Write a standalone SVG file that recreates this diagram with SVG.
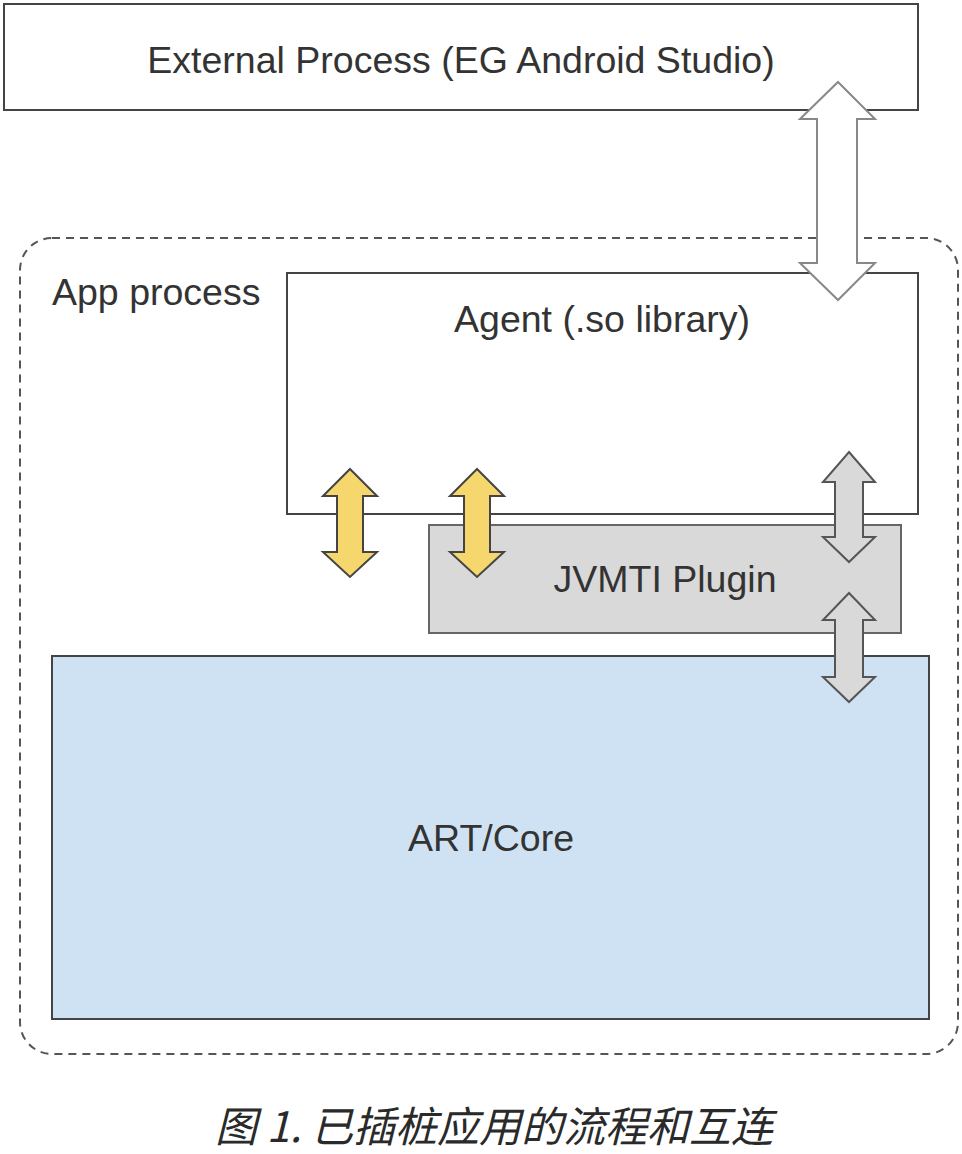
<svg xmlns="http://www.w3.org/2000/svg" width="962" height="1154" viewBox="0 0 962 1154">
<style>
.t{font-family:"Liberation Sans",Arial,sans-serif;font-size:37.5px;fill:#333;}
.box{stroke:#444;stroke-width:2;}
.arr{stroke-width:2;stroke-linejoin:miter;}
</style>
<rect width="962" height="1154" fill="#fff"/>
<g id="app-process">
<rect x="20" y="238" width="938" height="816" rx="32" fill="none" stroke="#555" stroke-width="2" stroke-dasharray="8,6"/>
<text class="t" x="52" y="305">App process</text>
</g>
<g id="external-process">
<rect class="box" x="4" y="4" width="914" height="106" fill="#fff"/>
<text class="t" x="461" y="73" text-anchor="middle">External Process (EG Android Studio)</text>
</g>
<g id="agent">
<rect class="box" x="287" y="273" width="631" height="241" fill="#fff"/>
<text class="t" x="602" y="332" text-anchor="middle">Agent (.so library)</text>
</g>
<g id="jvmti-plugin">
<rect x="429" y="525" width="472" height="108" fill="#d9d9d9" stroke="#666" stroke-width="2"/>
<text class="t" x="665" y="592" text-anchor="middle">JVMTI Plugin</text>
</g>
<g id="art-core">
<rect class="box" x="52" y="656" width="877" height="363" fill="#cfe2f3"/>
<text class="t" x="491" y="851" text-anchor="middle">ART/Core</text>
</g>
<g id="connectors">
<path class="arr" fill="#fff" stroke="#888" d="M838,82 L875,119 L857,119 L857,263 L875,263 L838,300 L800,263 L817,263 L817,119 L800,119 Z"/>
<path class="arr" fill="#f5d76e" stroke="#444" d="M350,469 L377,496 L363,496 L363,552 L377,552 L350,577 L323,552 L337,552 L337,496 L323,496 Z"/>
<path class="arr" fill="#f5d76e" stroke="#444" d="M477,469 L504,496 L490,496 L490,552 L504,552 L477,577 L450,552 L464,552 L464,496 L450,496 Z"/>
<path class="arr" fill="#d9d9d9" stroke="#555" d="M849,452 L875,482 L863,482 L863,537 L875,537 L849,562 L823,537 L835,537 L835,482 L823,482 Z"/>
<path class="arr" fill="#d9d9d9" stroke="#555" d="M849,593 L875,620 L863,620 L863,677 L875,677 L849,702 L823,677 L835,677 L835,620 L823,620 Z"/>
</g>
<text x="494" y="1142" text-anchor="middle" font-family="'Noto Sans CJK SC',sans-serif" font-size="42" font-weight="400" font-style="italic" fill="#2a2a2a">图 1. 已插桩应用的流程和互连</text>
</svg>
